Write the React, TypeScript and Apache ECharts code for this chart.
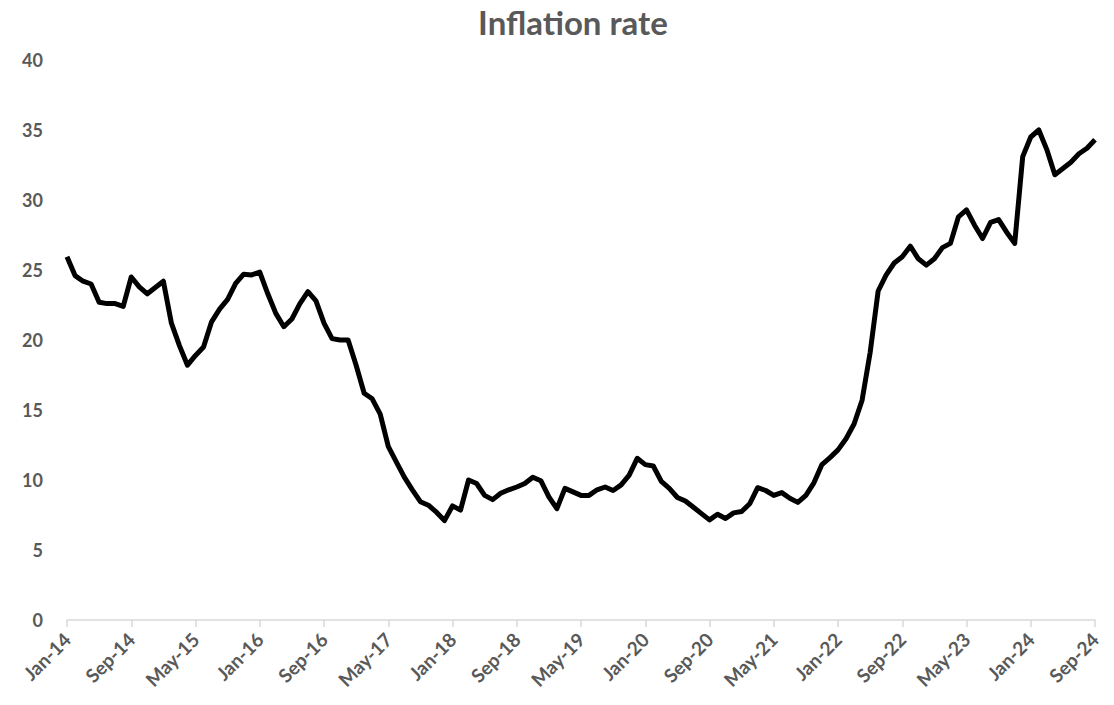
import React, { useEffect, useRef } from "react";
import * as echarts from "echarts";

const MONTHS = ["Jan", "Feb", "Mar", "Apr", "May", "Jun", "Jul", "Aug", "Sep", "Oct", "Nov", "Dec"];
const START_YEAR = 14;
const categories: string[] = [];
for (let i = 0; i < 129; i++) {
  const m = i % 12;
  const y = START_YEAR + Math.floor(i / 12);
  categories.push(`${MONTHS[m]}-${y}`);
}

const inflation = [
  25.95, 24.6, 24.2, 24.0, 22.7, 22.6, 22.6, 22.4, 24.5, 23.8, 23.3, 23.75,
  24.2, 21.2, 19.6, 18.2, 18.9, 19.5, 21.3, 22.2, 22.9, 24.05, 24.7, 24.65,
  24.85, 23.3, 21.9, 20.95, 21.5, 22.6, 23.45, 22.8, 21.2, 20.1, 20.0, 20.0,
  18.2, 16.2, 15.8, 14.7, 12.4, 11.3, 10.2, 9.3, 8.45, 8.2, 7.7, 7.1,
  8.15, 7.85, 10.0, 9.75, 8.9, 8.6, 9.05, 9.3, 9.5, 9.75, 10.2, 9.95,
  8.8, 7.95, 9.4, 9.15, 8.9, 8.9, 9.3, 9.5, 9.25, 9.65, 10.35, 11.55,
  11.1, 11.0, 9.9, 9.4, 8.75, 8.5, 8.05, 7.6, 7.15, 7.55, 7.25, 7.65,
  7.75, 8.3, 9.45, 9.25, 8.9, 9.1, 8.7, 8.4, 8.9, 9.8, 11.1, 11.6,
  12.15, 12.95, 14.0, 15.7, 19.1, 23.5, 24.65, 25.5, 25.95, 26.7, 25.8, 25.35,
  25.8, 26.6, 26.9, 28.8, 29.3, 28.2, 27.25, 28.4, 28.6, 27.7, 26.9, 33.1,
  34.5, 35.0, 33.6, 31.8, 32.25, 32.7, 33.3, 33.7, 34.3,
];

const FONT = "Lato, 'Open Sans', sans-serif";
const GRAY = "#595959";

export default function App() {
  const ref = useRef<HTMLDivElement>(null);
  useEffect(() => {
    if (!ref.current) return;
    const chart = echarts.init(ref.current, null, { renderer: "svg" });
    chart.setOption({
      animation: false,
      backgroundColor: "#ffffff",
      title: {
        text: "Inflation rate",
        left: 568,
        top: 0,
        textAlign: "center",
        textStyle: { fontFamily: FONT, fontSize: 33, fontWeight: "bold", color: GRAY },
      },
      grid: { left: 67, right: 19, top: 60, bottom: 85, containLabel: false },
      xAxis: {
        type: "category",
        data: categories,
        boundaryGap: false,
        axisLine: { show: true, lineStyle: { color: "#d9d9d9", width: 1.5 } },
        axisTick: { show: true, interval: 7, length: 7, lineStyle: { color: "#d9d9d9", width: 1.5 } },
        axisLabel: {
          interval: 7,
          rotate: 45,
          margin: 16,
          fontFamily: FONT,
          fontSize: 19,
          fontWeight: "bold",
          color: GRAY,
        },
        splitLine: { show: false },
      },
      yAxis: {
        type: "value",
        min: 0,
        max: 40,
        interval: 5,
        axisLine: { show: false },
        axisTick: { show: false },
        splitLine: { show: false },
        axisLabel: {
          margin: 24,
          fontFamily: FONT,
          fontSize: 18,
          fontWeight: "bold",
          color: GRAY,
        },
      },
      series: [
        {
          type: "line",
          data: inflation,
          showSymbol: false,
          symbol: "none",
          lineStyle: { color: "#000000", width: 5, join: "round" },
        },
      ],
    });
    return () => chart.dispose();
  }, []);
  return <div ref={ref} style={{ width: 1114, height: 705, margin: -8 }} />;
}
